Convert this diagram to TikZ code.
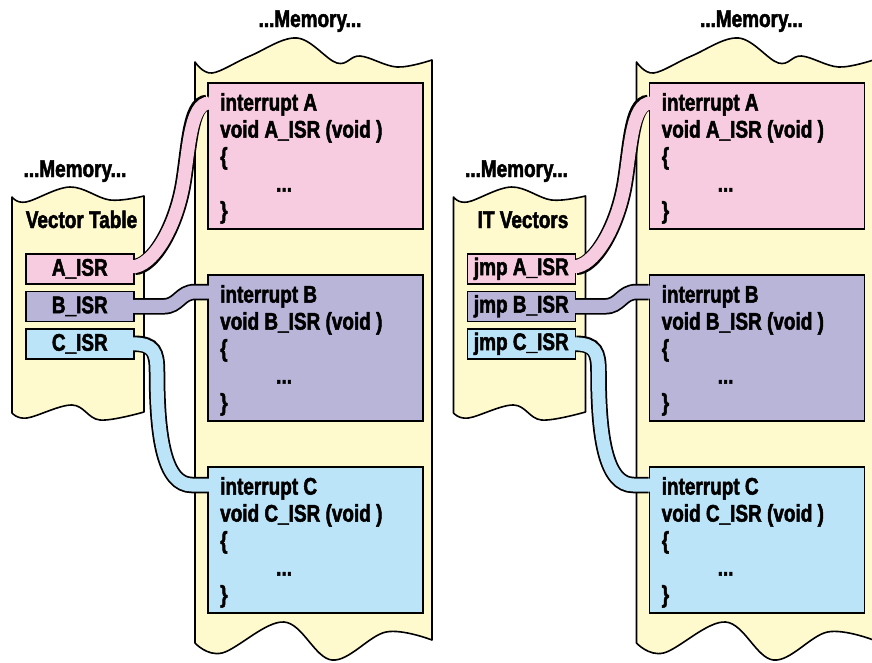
\documentclass[tikz,border=0pt]{standalone}
\usepackage{fontspec}
\newfontfamily\diagfont{Liberation Sans}[UprightFont={* Bold}, FakeStretch=0.79, FakeBold=2]
\newcommand\dfont{\diagfont\fontsize{24}{27}\selectfont}

\definecolor{memyellow}{RGB}{255,250,205}
\definecolor{isrpink}{RGB}{248,204,224}
\definecolor{isrpurple}{RGB}{185,181,217}
\definecolor{isrblue}{RGB}{187,228,248}

\tikzset{
  memcol/.style={fill=memyellow, draw=black, line width=1.6pt, line join=round},
  vecbox/.style={draw=black, line width=1.6pt, minimum width=108pt, minimum height=30pt,
                 inner sep=0pt, anchor=north west, font=\dfont},
  codebox/.style={draw=black, line width=1.6pt, minimum width=215pt, minimum height=146pt,
                  inner sep=0pt, anchor=north west},
  codetext/.style={anchor=north west, align=left, inner sep=0pt, font=\dfont},
  heading/.style={anchor=base, inner sep=0pt, font=\dfont},
}

% body of an interrupt service routine
\newcommand\isrcode[1]{interrupt #1\\void #1\_ISR (void )\\\{\\\hspace*{56pt}...\\\}}

% a tube: black outline, then the coloured core running slightly into both boxes
\newcommand\isrtube[2]{%
  \draw[line width=16.5pt, black] #2;
  \draw[line width=13pt, #1, shorten <=-2.5pt, shorten >=-2.5pt] #2;}

% one half: vector table column, memory column with three routines, and the links
% #1 node-name prefix, #2 x offset, #3 table heading, #4 text before each entry
\newcommand\memhalf[4]{%
\begin{scope}[xshift=#2pt]
  % memory column holding the routines
  \draw[memcol] (195,643) -- plot[smooth, tension=0.6] coordinates
      {(195,62) (212,73) (250,56) (297,38) (337,63) (360,56) (397,67) (432,60)}
    -- plot[smooth, tension=0.6] coordinates
      {(432,640) (386,632) (332,660) (284,622) (222,653) (195,643)} -- cycle;
  % memory column holding the vector table
  \draw[memcol] (12,413) -- plot[smooth, tension=0.6] coordinates
      {(12,197) (26,202) (70,187) (110,200) (144,196)}
    -- plot[smooth, tension=0.6] coordinates
      {(144,412) (100,420) (72,405) (27,418) (12,413)} -- cycle;

  \node[heading] (#1memtop) at (310,27) {...Memory...};
  \node[heading] (#1memside) at (75,177) {...Memory...};
  \node[heading] (#1title) at (81.5,228) {#3};

  % vector table entries
  \node[vecbox, fill=isrpink]   (#1aisr) at (25,253)   {#4A\_ISR};
  \node[vecbox, fill=isrpurple] (#1bisr) at (25,290.5) {#4B\_ISR};
  \node[vecbox, fill=isrblue]   (#1cisr) at (25,328)   {#4C\_ISR};

  % interrupt service routines
  \node[codebox, fill=isrpink]   (#1abox) at (207,82)  {};
  \node[codebox, fill=isrpurple] (#1bbox) at (207,274) {};
  \node[codebox, fill=isrblue]   (#1cbox) at (207,466) {};
  \node[codetext] (#1atext) at ([shift={(13,11)}]#1abox.north west) {\isrcode{A}};
  \node[codetext] (#1btext) at ([shift={(13,11)}]#1bbox.north west) {\isrcode{B}};
  \node[codetext] (#1ctext) at ([shift={(13,11)}]#1cbox.north west) {\isrcode{C}};

  % links from each entry to its routine
  \isrtube{isrpink}{([yshift=2pt]#1aisr.east) .. controls +(17,0) and (175,230) .. (183,185)
      .. controls (189,150) and (190,103) .. ([yshift=-21pt]#1abox.north west)}
  \isrtube{isrpurple}{(#1bisr.east) -- ++(29,0) .. controls +(15,0) and (180,292) .. (195,292)
      -- ([yshift=-18pt]#1bbox.north west)}
  \isrtube{isrblue}{(#1cisr.east) .. controls +(19,0) and (157,352) .. (157,372)
      .. controls (157,440) and (165,485) .. (192,485) -- ([yshift=-19pt]#1cbox.north west)}
\end{scope}}

\begin{document}
\begin{tikzpicture}[x=1pt, y=-1pt]
  \useasboundingbox (0,0) rectangle (872,662);
  \memhalf{l}{0}{Vector Table}{}
  \memhalf{r}{441.5}{IT Vectors}{jmp }
\end{tikzpicture}
\end{document}
